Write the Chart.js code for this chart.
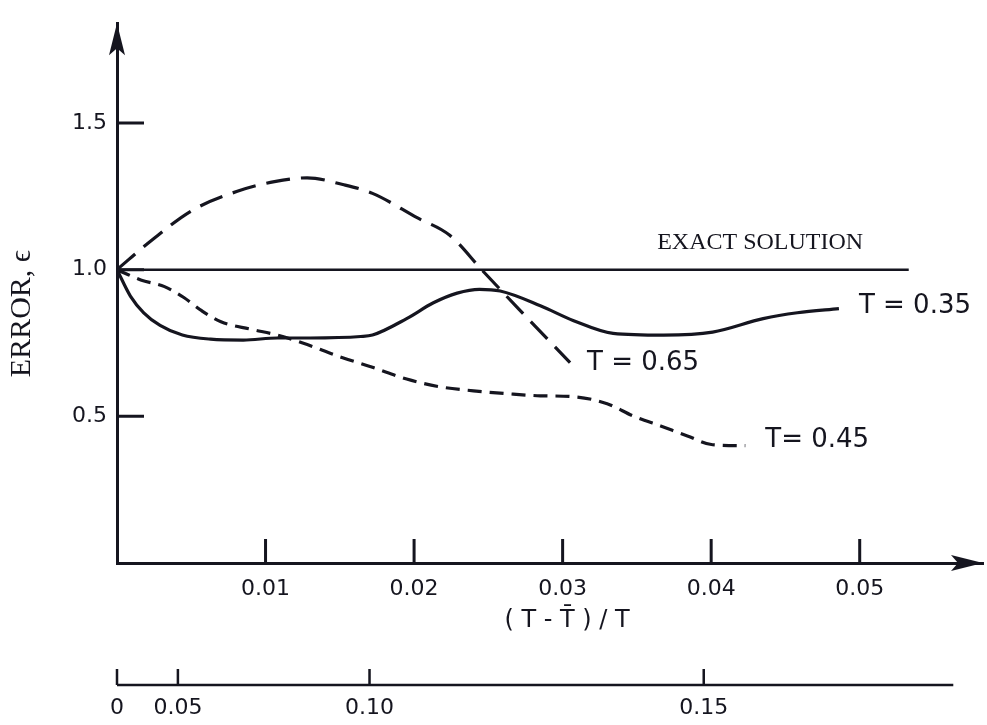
<!DOCTYPE html>
<html>
<head>
<meta charset="utf-8">
<script src="https://cdn.jsdelivr.net/npm/chart.js@4.4.0/dist/chart.umd.min.js"></script>
<style>
  body { margin: 0; background: #fff; }
  #wrap { width: 987px; height: 725px; }
</style>
</head>
<body>
<div id="wrap"><canvas id="errChart"></canvas></div>
<script>
// error vs (T - Tbar)/T, one curve per T
const t35X = [0, 0.0009, 0.0018, 0.0029, 0.0044, 0.0063, 0.0085, 0.0108, 0.013, 0.0164, 0.0172, 0.0195, 0.0213, 0.0229, 0.0244, 0.0258, 0.0285, 0.0307, 0.0334, 0.0368, 0.0401, 0.0435, 0.0458, 0.0486];
const t35Y = [1.0, 0.91, 0.853, 0.81, 0.777, 0.763, 0.76, 0.767, 0.767, 0.772, 0.777, 0.833, 0.887, 0.92, 0.933, 0.927, 0.877, 0.827, 0.783, 0.777, 0.787, 0.833, 0.853, 0.867];

const t45X = [0, 0.0016, 0.0032, 0.0045, 0.0057, 0.007, 0.009, 0.0108, 0.0125, 0.015, 0.0172, 0.0195, 0.0218, 0.024, 0.0263, 0.0285, 0.0307, 0.033, 0.0348, 0.0366, 0.0384, 0.0401, 0.0423];
const t45Y = [1.0, 0.965, 0.942, 0.905, 0.86, 0.822, 0.797, 0.777, 0.75, 0.703, 0.667, 0.627, 0.6, 0.587, 0.577, 0.57, 0.567, 0.543, 0.5, 0.467, 0.433, 0.403, 0.4];

const t65X = [0, 0.0024, 0.0051, 0.0081, 0.0106, 0.0128, 0.0152, 0.0172, 0.0202, 0.0224, 0.0246, 0.0271, 0.0305];
const t65Y = [1.0, 1.103, 1.203, 1.267, 1.3, 1.313, 1.29, 1.26, 1.177, 1.117, 0.997, 0.863, 0.683];

const exactX = [0, 0.0533];
const exactY = [1.0, 1.0];

const xTicks = [0.01, 0.02, 0.03, 0.04, 0.05];
const yTicks = [0.5, 1.0, 1.5];
// second scale under the plot: its labels and where they fall on (T - Tbar)/T
const lowerLabels = ['0', '0.05', '0.10', '0.15'];
const lowerAt = [0, 0.0041, 0.0170, 0.0395];
const lowerEnd = 0.0563;

const ink = '#15151f';
const sans = '"DejaVu Sans", sans-serif';
const serif = '"Liberation Serif", "Times New Roman", serif';

function pts(xs, ys) {
  return xs.map((v, i) => ({ x: v, y: ys[i] }));
}

function curve(label, xs, ys, width, dash) {
  return {
    label: label,
    data: pts(xs, ys),
    borderColor: ink,
    backgroundColor: ink,
    borderWidth: width,
    borderDash: dash || [],
    borderCapStyle: 'butt',
    pointRadius: 0,
    fill: false,
    cubicInterpolationMode: 'monotone'
  };
}

function arrowHead(ctx, tx, ty, dx, dy) {
  const len = 32, hw = 8, notch = 7;
  const nx = -dy, ny = dx;
  ctx.beginPath();
  ctx.moveTo(tx, ty);
  ctx.lineTo(tx - dx * len + nx * hw, ty - dy * len + ny * hw);
  ctx.lineTo(tx - dx * (len - notch), ty - dy * (len - notch));
  ctx.lineTo(tx - dx * len - nx * hw, ty - dy * len - ny * hw);
  ctx.closePath();
  ctx.fill();
}

const decor = {
  id: 'decor',
  afterDraw(chart) {
    const { ctx, chartArea: a, scales: { x, y, x2 } } = chart;
    ctx.save();
    ctx.strokeStyle = ink;
    ctx.fillStyle = ink;
    ctx.lineWidth = 3;

    // tick marks point into the plot
    ctx.beginPath();
    xTicks.forEach(v => {
      const px = x.getPixelForValue(v);
      ctx.moveTo(px, a.bottom);
      ctx.lineTo(px, a.bottom - 24);
    });
    yTicks.forEach(v => {
      const py = y.getPixelForValue(v);
      ctx.moveTo(a.left, py);
      ctx.lineTo(a.left + 27, py);
    });
    ctx.stroke();

    arrowHead(ctx, a.left, a.top, 0, -1);
    arrowHead(ctx, a.right, a.bottom, 1, 0);

    // lower scale line and its ticks
    const ly = x2.top;
    ctx.lineWidth = 2.5;
    ctx.beginPath();
    ctx.moveTo(x.getPixelForValue(0), ly);
    ctx.lineTo(x.getPixelForValue(lowerEnd), ly);
    lowerAt.forEach(v => {
      const px = x.getPixelForValue(v);
      ctx.moveTo(px, ly);
      ctx.lineTo(px, ly - 16);
    });
    ctx.stroke();

    // curve labels
    ctx.textBaseline = 'middle';
    ctx.textAlign = 'left';
    ctx.font = '26px ' + sans;
    const tag = (xs, ys, text, ox, oy) => {
      const n = xs.length - 1;
      ctx.fillText(text, x.getPixelForValue(xs[n]) + ox, y.getPixelForValue(ys[n]) + oy);
    };
    tag(t35X, t35Y, 'T = 0.35', 20, -2);
    tag(t65X, t65Y, 'T = 0.65', 17, 1);
    tag(t45X, t45Y, 'T= 0.45', 20, -5);

    ctx.textAlign = 'center';
    ctx.font = '24px ' + serif;
    ctx.fillText('EXACT SOLUTION', x.getPixelForValue(0.0433), y.getPixelForValue(1.0) - 27);

    // axis titles
    ctx.font = '24px ' + sans;
    ctx.fillText('( T - T\u0304 ) / T', x.getPixelForValue(0.0303), a.bottom + 58);

    ctx.translate(a.left - 95, y.getPixelForValue(0.85));
    ctx.rotate(-Math.PI / 2);
    ctx.font = '30px ' + serif;
    ctx.fillText('ERROR, \u03f5', 0, 0);
    ctx.restore();
  }
};

const ctx = document.getElementById('errChart').getContext('2d');
const errChart = new Chart(ctx, {
  type: 'line',
  data: {
    datasets: [
      curve('exact', exactX, exactY, 2.5),
      curve('T = 0.35', t35X, t35Y, 3.2),
      curve('T = 0.45', t45X, t45Y, 3.2, [14, 8]),
      curve('T = 0.65', t65X, t65Y, 3.2, [24, 11])
    ]
  },
  options: {
    responsive: true,
    maintainAspectRatio: false,
    animation: false,
    layout: { padding: { top: 11, right: 4, bottom: 0, left: 0 } },
    plugins: {
      legend: { display: false },
      tooltip: { enabled: false }
    },
    scales: {
      x: {
        type: 'linear',
        position: 'bottom',
        weight: 0,
        min: 0,
        max: 0.0583,
        grid: { display: false, drawTicks: false },
        border: { display: true, color: ink, width: 3 },
        afterBuildTicks: s => { s.ticks = xTicks.map(v => ({ value: v })); },
        afterFit: s => { s.height = 122; },
        ticks: {
          autoSkip: false,
          maxRotation: 0,
          padding: 13,
          color: ink,
          font: { family: sans, size: 22 },
          callback: v => v.toFixed(2)
        }
      },
      x2: {
        type: 'linear',
        position: 'bottom',
        weight: 1,
        min: 0,
        max: 0.0583,
        grid: { display: false, drawTicks: false },
        border: { display: false },
        afterBuildTicks: s => { s.ticks = lowerAt.map(v => ({ value: v })); },
        afterFit: s => { s.height = 40; },
        ticks: {
          autoSkip: false,
          maxRotation: 0,
          padding: 10,
          color: ink,
          font: { family: sans, size: 22 },
          callback: (v, i) => lowerLabels[i]
        }
      },
      y: {
        type: 'linear',
        min: 0,
        max: 1.84,
        grid: { display: false, drawTicks: false },
        border: { display: true, color: ink, width: 3 },
        afterBuildTicks: s => { s.ticks = yTicks.map(v => ({ value: v })); },
        afterFit: s => { s.width = 117; },
        ticks: {
          padding: 10,
          color: ink,
          font: { family: sans, size: 22 },
          callback: v => v.toFixed(1)
        }
      }
    }
  },
  plugins: [decor]
});
</script>
</body>
</html>
